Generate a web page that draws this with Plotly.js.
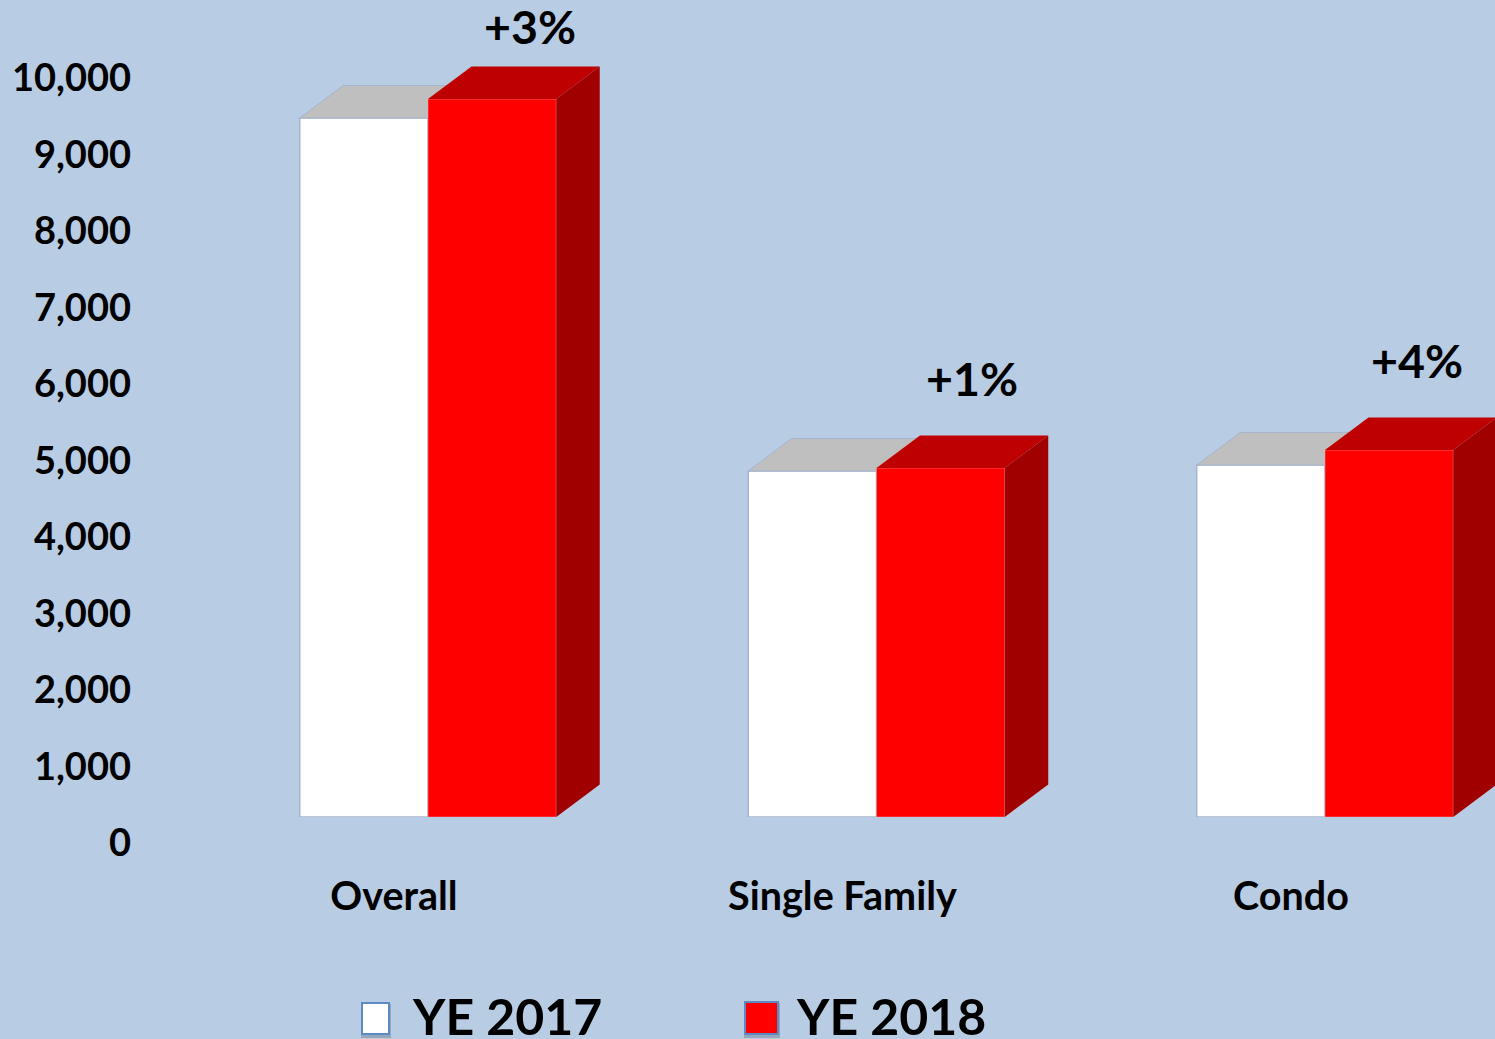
<!DOCTYPE html>
<html>
<head>
<meta charset="utf-8">
<script src="https://cdn.plot.ly/plotly-3.0.1.min.js"></script>
<style>html,body{margin:0;padding:0;background:#b8cce4;overflow:hidden}#chart{width:1495px;height:1039px}</style>
</head>
<body>
<div id="chart"></div>
<script>
const categories = ['Overall', 'Single Family', 'Condo'];
const ye2017 = [9137, 4523, 4601];
const ye2018 = [9385, 4562, 4797];
const changeLabels = ['+3%', '+1%', '+4%'];
const yTicks = [0, 1000, 2000, 3000, 4000, 5000, 6000, 7000, 8000, 9000, 10000];
const seriesNames = ['YE 2017', 'YE 2018'];

const W = 1495, H = 1039;
const L = 140, B = 817;
const pxPerCat = 448.5, pxPerK = 76.5;
const font = 'Lato, Carlito, Calibri, sans-serif';
const positions = categories.map((_, i) => i);
const barW = 128.25 / pxPerCat;
const depthX = 43.5 / pxPerCat;
const depthY = 32.5 / pxPerK * 1000;
const xRange = [(L - 428) / pxPerCat, (W - 428) / pxPerCat];
const yRange = [0, B / pxPerK * 1000];
const edge = '#a6b5cc';

function topFace(x0, v) {
  return {x: [x0, x0 + depthX, x0 + barW + depthX, x0 + barW, x0], y: [v, v + depthY, v + depthY, v, v]};
}
function sideFace(x1, v) {
  return {x: [x1, x1 + depthX, x1 + depthX, x1, x1], y: [0, depthY, v + depthY, v, 0]};
}
function polyTrace(p, color, yaxis, lineColor) {
  return {type: 'scatter', mode: 'lines', x: p.x, y: p.y, fill: 'toself', fillcolor: color,
    line: {color: lineColor || color, width: lineColor ? 1 : 0}, yaxis: yaxis, hoverinfo: 'skip', showlegend: false, cliponaxis: true};
}

const traces = [];
traces.push({type: 'bar', name: seriesNames[0], x: positions, y: ye2017, width: barW, offset: -barW,
  marker: {color: '#ffffff', line: {color: edge, width: 1.5}}, showlegend: false});
positions.forEach((p, i) => traces.push(polyTrace(topFace(p - barW, ye2017[i]), '#bfbfbf', 'y', edge)));
traces.push({type: 'bar', name: seriesNames[1], x: positions, y: ye2018, width: barW, offset: 0, yaxis: 'y2',
  marker: {color: '#ff0000', line: {color: '#e8a0a8', width: 0.5}}, showlegend: false});
positions.forEach((p, i) => {
  traces.push(polyTrace(topFace(p, ye2018[i]), '#bf0000', 'y2'));
  traces.push(polyTrace(sideFace(p + barW, ye2018[i]), '#a00000', 'y2'));
});

const px = x => (x - L) / (W - L);
const py = y => (B - y) / B;
function swatch(x0, y0, x1, y1, color) {
  return [
    {type: 'rect', xref: 'paper', yref: 'paper', x0: px(x0 - 1), x1: px(x1 + 2), y0: py(y0 + 1), y1: py(y1 + 4),
      fillcolor: 'rgba(60,70,90,0.28)', line: {width: 0}},
    {type: 'rect', xref: 'paper', yref: 'paper', x0: px(x0), x1: px(x1), y0: py(y0), y1: py(y1),
      fillcolor: color, line: {color: '#5b8ac5', width: 2}}
  ];
}
const annFont = {family: font, size: 46.5, color: '#000000'};
const offsets = [[102, 73.5], [95.5, 90], [92, 90]];
const annotations = changeLabels.map((t, i) => ({
  text: '<b>' + t + '</b>', xref: 'x', yref: 'y', x: positions[i] + offsets[i][0] / pxPerCat,
  y: ye2018[i] + offsets[i][1] / pxPerK * 1000, xanchor: 'center', yanchor: 'middle', showarrow: false, font: annFont
}));
annotations.push(
  {text: '<b>' + seriesNames[0] + '</b>', xref: 'paper', yref: 'paper', x: px(410), y: py(1016), xanchor: 'left', yanchor: 'middle',
    showarrow: false, font: {family: font, size: 50, color: '#000000'}},
  {text: '<b>' + seriesNames[1] + '</b>', xref: 'paper', yref: 'paper', x: px(794), y: py(1016), xanchor: 'left', yanchor: 'middle',
    showarrow: false, font: {family: font, size: 50, color: '#000000'}}
);

const layout = {
  width: W, height: H, autosize: false,
  paper_bgcolor: '#b8cce4', plot_bgcolor: '#b8cce4',
  margin: {l: L, r: 0, t: 0, b: H - B, pad: 0},
  showlegend: false,
  xaxis: {range: xRange, tickmode: 'array', tickvals: positions, ticktext: categories.map(c => '<b>' + c + '</b>'),
    ticks: '', showgrid: false, zeroline: false, showline: false, ticklabelshift: -34, ticklabelstandoff: 52,
    tickangle: 0, automargin: false, fixedrange: true,
    tickfont: {family: font, size: 39.5, color: '#000000'}},
  yaxis: {range: yRange, tickmode: 'array', tickvals: yTicks, ticktext: yTicks.map(v => '<b>' + v.toLocaleString('en-US') + '</b>'),
    ticks: '', showgrid: false, zeroline: false, showline: false, ticklabelshift: 26, ticklabelstandoff: 8,
    automargin: false, fixedrange: true,
    tickfont: {family: font, size: 38, color: '#000000'}},
  yaxis2: {range: yRange, overlaying: 'y', side: 'left', visible: false, fixedrange: true},
  annotations: annotations,
  shapes: [...swatch(362, 1003, 389, 1034, '#ffffff'), ...swatch(745, 1002, 778, 1034, '#ff0000')]
};
Plotly.newPlot('chart', traces, layout, {displayModeBar: false, staticPlot: true});
</script>
</body>
</html>
